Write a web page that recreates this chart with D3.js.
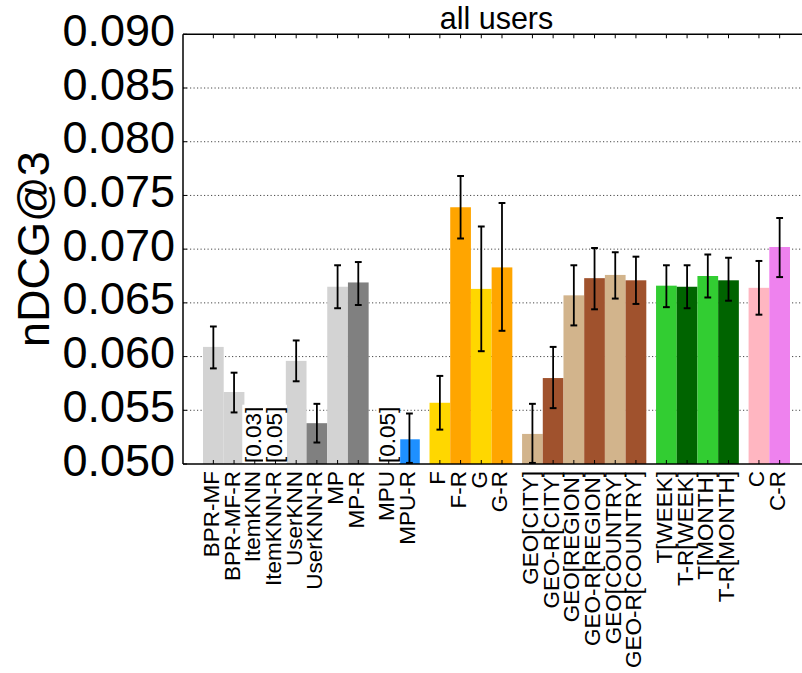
<!DOCTYPE html>
<html>
<head>
<meta charset="utf-8">
<script src="https://cdn.jsdelivr.net/npm/d3@7"></script>
<style>
  html, body { margin: 0; padding: 0; background: #fff; }
  svg { display: block; font-family: "Liberation Sans", Arial, Helvetica, sans-serif; }
</style>
</head>
<body>
<svg id="chart" width="802" height="673"></svg>
<script>
// ---------------- data ----------------
const categories = ["BPR-MF","BPR-MF-R","ItemKNN","ItemKNN-R","UserKNN","UserKNN-R","MP","MP-R",
  "MPU","MPU-R",
  "F","F-R","G","G-R",
  "GEO[CITY]","GEO-R[CITY]","GEO[REGION]","GEO-R[REGION]","GEO[COUNTRY]","GEO-R[COUNTRY]",
  "T[WEEK]","T-R[WEEK]","T[MONTH]","T-R[MONTH]",
  "C","C-R"];
const groups = [0,0,0,0,0,0,0,0, 1,1, 2,2,2,2, 3,3,3,3,3,3, 4,4,4,4, 5,5];
const values = [0.0609,0.0567,0.030,0.049,0.0596,0.0538,0.0665,0.0669,
  0.049,0.0523,
  0.0557,0.0739,0.0663,0.0683,
  0.0528,0.0580,0.0657,0.0673,0.0676,0.0671,
  0.0666,0.0665,0.0675,0.0671,
  0.0664,0.0702];
const errLow = [0.0589,0.0548,null,null,0.0577,0.0520,0.0645,0.0648,
  null,0.0501,
  0.0532,0.0710,0.0605,0.0624,
  0.0501,0.0552,0.0629,0.0644,0.0654,0.0649,
  0.0646,0.0645,0.0655,0.0652,
  0.0639,0.0674];
const errHigh = [0.0628,0.0585,null,null,0.0615,0.0556,0.0685,0.0688,
  null,0.0547,
  0.0582,0.0768,0.0721,0.0743,
  0.0556,0.0609,0.0685,0.0701,0.0697,0.0693,
  0.0685,0.0685,0.0695,0.0692,
  0.0689,0.0729];
const colors = ["#d3d3d3","#d3d3d3","#d3d3d3","#808080","#d3d3d3","#808080","#d3d3d3","#808080",
  "#d3d3d3","#1e90ff",
  "#ffd700","#ffa500","#ffd700","#ffa500",
  "#d2b48c","#a0522d","#d2b48c","#a0522d","#d2b48c","#a0522d",
  "#32cd32","#006400","#32cd32","#006400",
  "#ffb6c1","#ee82ee"];
const yTicks = [0.050,0.055,0.060,0.065,0.070,0.075,0.080,0.085,0.090];
const chartTitle = "all users";
const yLabel = "nDCG@3";

// ---------------- layout ----------------
const groupGap = 0.47;
const pos = categories.map((c, i) => i + groups[i] * groupGap);
const lastPos = pos[pos.length - 1] + 1;
const xPad = 0.966;

const pLeft = 183, pTop = 34.3, pBottom = 464, pRight = 810;
const x = d3.scaleLinear().domain([-xPad, lastPos + xPad]).range([pLeft, pRight]);
const y = d3.scaleLinear().domain([0.05, 0.09]).range([pBottom, pTop]);
const bw = x(1) - x(0);

const svg = d3.select("#chart");
svg.append("defs").append("clipPath").attr("id", "plotclip")
  .append("rect").attr("x", pLeft).attr("y", pTop).attr("width", pRight - pLeft).attr("height", pBottom - pTop);

// grid
svg.append("g").selectAll("line").data(yTicks.slice(1, -1)).join("line")
  .attr("x1", pLeft).attr("x2", 802)
  .attr("y1", d => y(d)).attr("y2", d => y(d))
  .attr("stroke", "#333").attr("stroke-width", 0.9)
  .attr("stroke-dasharray", "1.2,2.3");

const plot = svg.append("g").attr("clip-path", "url(#plotclip)");

// bars
plot.selectAll("rect.bar").data(categories).join("rect").attr("class", "bar")
  .attr("x", (d, i) => x(pos[i]))
  .attr("width", bw)
  .attr("y", (d, i) => Math.min(y(values[i]), pBottom))
  .attr("height", (d, i) => Math.max(0, pBottom - y(values[i])))
  .attr("fill", (d, i) => colors[i]);

// error bars
const eb = plot.append("g");
categories.forEach((c, i) => {
  if (errLow[i] == null) return;
  const cx = x(pos[i] + 0.5);
  eb.append("line").attr("x1", cx).attr("x2", cx)
    .attr("y1", y(errLow[i])).attr("y2", y(errHigh[i]))
    .attr("stroke", "#000").attr("stroke-width", 1.8);
  [errLow[i], errHigh[i]].forEach(v => {
    eb.append("line").attr("x1", cx - 3.4).attr("x2", cx + 3.4)
      .attr("y1", y(v)).attr("y2", y(v))
      .attr("stroke", "#000").attr("stroke-width", 2);
  });
});

// annotations for values below the axis minimum
const fmt2 = d3.format(".2f");
const ann = svg.append("g");
categories.forEach((c, i) => {
  if (values[i] >= 0.05) return;
  const cx = x(pos[i] + 0.5);
  const g = ann.append("g").attr("transform", `translate(${cx + 6.5},${pBottom - 1}) rotate(-90)`);
  const rect = g.append("rect").attr("fill", "#fff");
  const t = g.append("text").attr("x", 0).attr("y", 0)
    .attr("font-size", 22.5).attr("text-anchor", "start")
    .text("[" + fmt2(values[i]) + "]");
  const len = t.node().getComputedTextLength();
  rect.attr("x", 0).attr("y", -19).attr("width", len + 2).attr("height", 24);
});

// frame
svg.append("line").attr("x1", pLeft).attr("x2", pLeft).attr("y1", pTop).attr("y2", pBottom)
  .attr("stroke", "#000").attr("stroke-width", 1.5);
svg.append("line").attr("x1", pLeft).attr("x2", 802).attr("y1", pTop).attr("y2", pTop)
  .attr("stroke", "#000").attr("stroke-width", 1.5);
svg.append("line").attr("x1", pLeft).attr("x2", 802).attr("y1", pBottom).attr("y2", pBottom)
  .attr("stroke", "#000").attr("stroke-width", 1.5);

// x ticks (inward, top and bottom)
const xt = svg.append("g");
categories.forEach((c, i) => {
  const cx = x(pos[i] + 0.5);
  xt.append("line").attr("x1", cx).attr("x2", cx).attr("y1", pBottom).attr("y2", pBottom - 4)
    .attr("stroke", "#000").attr("stroke-width", 1);
  xt.append("line").attr("x1", cx).attr("x2", cx).attr("y1", pTop).attr("y2", pTop + 4)
    .attr("stroke", "#000").attr("stroke-width", 1);
});

// x tick labels
svg.append("g").selectAll("text").data(categories).join("text")
  .attr("transform", (d, i) => `translate(${x(pos[i] + 0.5) + 5.5},471) rotate(-90)`)
  .attr("text-anchor", "end")
  .attr("font-size", 22.5)
  .text(d => d);

// y ticks + labels
const yt = svg.append("g");
yTicks.forEach(v => {
  yt.append("line").attr("x1", pLeft).attr("x2", pLeft + 4).attr("y1", y(v)).attr("y2", y(v))
    .attr("stroke", "#000").attr("stroke-width", 1);
  yt.append("text").attr("x", 175).attr("y", y(v) + 11.5)
    .attr("text-anchor", "end").attr("font-size", 45)
    .text(d3.format(".3f")(v));
});

// y label
svg.append("text")
  .attr("transform", `translate(49,${(pTop + pBottom) / 2}) rotate(-90)`)
  .attr("text-anchor", "middle").attr("font-size", 45)
  .text(yLabel);

// title
svg.append("text").attr("x", (pLeft + pRight) / 2).attr("y", 28.5)
  .attr("text-anchor", "middle").attr("font-size", 30.5)
  .text(chartTitle);
</script>
</body>
</html>
